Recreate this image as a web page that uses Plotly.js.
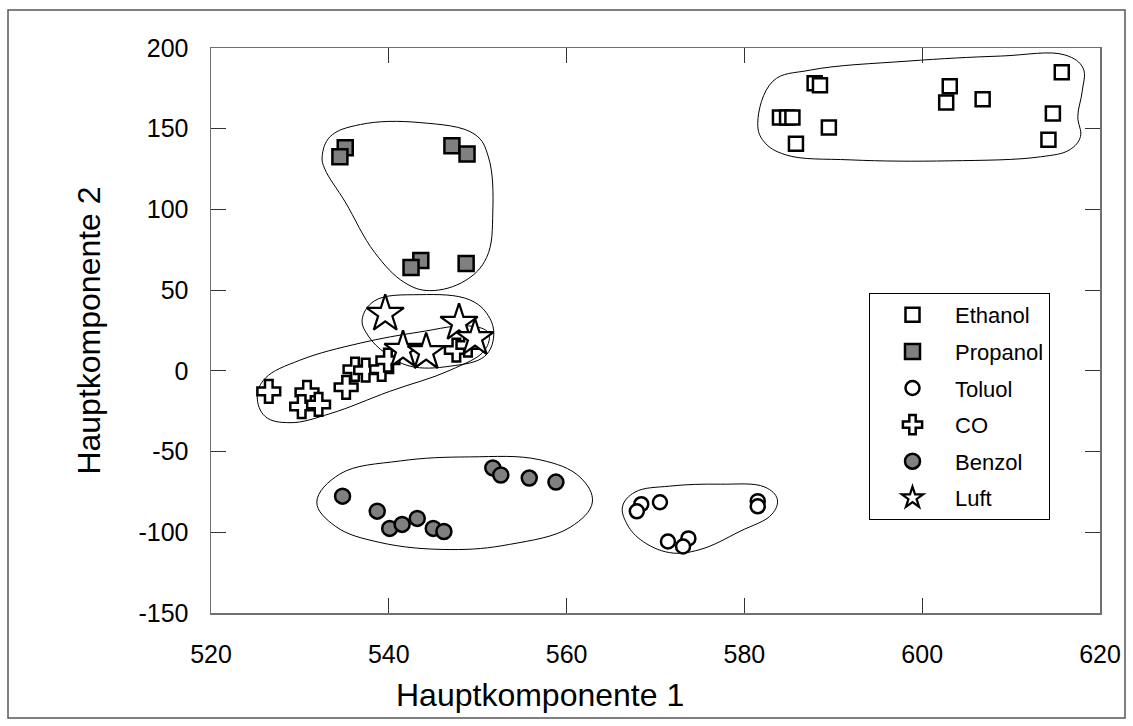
<!DOCTYPE html>
<html>
<head>
<meta charset="utf-8">
<script src="https://cdn.plot.ly/plotly-3.0.1.min.js"></script>
<style>html,body{margin:0;padding:0;background:#fff;}#chart{width:1133px;height:726px;}</style>
</head>
<body>
<div id="chart"></div>
<script>
// ---- data ----
const ethanolX = [587.9, 588.5, 584.0, 584.8, 585.4, 585.8, 589.5, 603.1, 602.7, 606.8, 615.7, 614.7, 614.2];
const ethanolY = [178.2, 176.9, 157.0, 157.0, 157.0, 140.7, 150.7, 176.3, 166.3, 168.2, 185.0, 159.4, 143.2];

const propanolX = [535.1, 534.5, 547.1, 548.8, 543.6, 542.5, 548.7];
const propanolY = [138.2, 132.6, 139.4, 134.4, 68.4, 64.0, 66.5];

const toluolX = [568.4, 567.9, 570.5, 581.5, 581.5, 571.4, 573.7, 573.1];
const toluolY = [-82.6, -87.0, -81.4, -80.7, -83.9, -105.7, -103.8, -108.8];

const coX = [526.5, 530.8, 530.2, 532.1, 535.2, 536.2, 537.4, 539.2, 539.9, 547.6, 548.9];
const coY = [-12.7, -13.3, -22.1, -20.8, -10.2, 1.0, 0.4, 1.0, 6.6, 12.9, 16.0];

const benzolX = [534.8, 538.7, 540.1, 541.5, 543.2, 545.0, 546.2, 551.7, 552.6, 555.8, 558.8];
const benzolY = [-77.6, -86.9, -97.6, -95.1, -91.4, -97.6, -99.5, -60.1, -64.5, -66.4, -68.9];

const luftX = [539.6, 547.9, 549.7, 541.6, 544.2];
const luftY = [35.3, 29.7, 20.3, 12.9, 11.6];

// cluster outlines (closed curves)
const hullEthanolX = [581.5, 583.2, 587.4, 598.4, 608.8, 616.1, 618.1, 618.0, 617.5, 617.8, 616.6, 613.3, 603.1, 591.9, 584.6, 582.2, 581.5];
const hullEthanolY = [153.2, 179.4, 186.3, 191.9, 195.0, 195.6, 187.5, 173.2, 157.6, 145.1, 137.0, 132.6, 130.1, 130.7, 133.9, 142.0, 153.2];

const hullPropanolX = [532.5, 533.4, 536.8, 543.5, 549.7, 551.2, 551.7, 551.0, 548.6, 544.6, 541.8, 538.4, 535.1, 532.8, 532.5];
const hullPropanolY = [132.6, 145.1, 152.6, 153.8, 146.4, 132.6, 98.3, 70.2, 55.9, 49.7, 54.6, 73.4, 104.6, 125.1, 132.6];

const hullLuftX = [537.0, 538.4, 543.5, 549.1, 551.2, 551.8, 550.8, 546.9, 542.4, 539.6, 537.7, 537.0];
const hullLuftY = [31.6, 43.4, 47.2, 44.0, 34.1, 21.6, 9.1, 2.9, 2.9, 11.0, 21.6, 31.6];

const hullCOX = [525.2, 526.1, 530.0, 536.8, 543.5, 549.1, 551.2, 550.8, 546.9, 540.1, 533.4, 528.9, 526.1, 525.2];
const hullCOY = [-15.8, -4.6, 6.6, 17.2, 24.1, 27.8, 23.5, 12.9, 0.4, -12.7, -26.5, -32.1, -28.3, -15.8];

const hullBenzolX = [531.9, 534.5, 541.3, 549.1, 557.0, 561.5, 562.9, 560.4, 553.6, 546.9, 539.0, 534.0, 531.9];
const hullBenzolY = [-81.3, -63.9, -55.8, -53.3, -55.1, -65.8, -81.3, -96.9, -107.5, -110.7, -106.3, -96.3, -81.3];

const hullToluolX = [566.3, 567.7, 571.6, 577.3, 582.3, 583.7, 583.1, 579.5, 575.0, 571.6, 568.3, 566.7, 566.3];
const hullToluolY = [-83.8, -75.1, -71.4, -70.2, -72.0, -79.5, -88.8, -99.4, -110.7, -112.6, -104.5, -93.9, -83.8];

const xTicks = [520, 540, 560, 580, 600, 620];
const yTicks = [-150, -100, -50, 0, 50, 100, 150, 200];

// ---- traces ----
const FONT = '"Liberation Sans", Arial, Helvetica, sans-serif';
function hull(x, y) {
  return {x: x, y: y, mode: 'lines', type: 'scatter', showlegend: false, hoverinfo: 'skip',
          line: {color: '#000', width: 1, shape: 'spline', smoothing: 1.1}};
}
const traces = [
  hull(hullEthanolX, hullEthanolY), hull(hullPropanolX, hullPropanolY), hull(hullLuftX, hullLuftY),
  hull(hullCOX, hullCOY), hull(hullBenzolX, hullBenzolY), hull(hullToluolX, hullToluolY),
  {name: 'Ethanol', legendgroup: 'g1', x: ethanolX, y: ethanolY, mode: 'markers', type: 'scatter',
   marker: {symbol: 'square', size: 14, color: '#fff', line: {color: '#000', width: 2.5}}},
  {name: 'Propanol', legendgroup: 'g2', x: propanolX, y: propanolY, mode: 'markers', type: 'scatter',
   marker: {symbol: 'square', size: 15, color: '#808080', line: {color: '#000', width: 2.5}}},
  {name: 'Toluol', legendgroup: 'g3', x: toluolX, y: toluolY, mode: 'markers', type: 'scatter',
   marker: {symbol: 'circle', size: 14, color: '#fff', line: {color: '#000', width: 2.5}}},
  {name: 'CO', legendgroup: 'g4', x: coX, y: coY, mode: 'markers', type: 'scatter',
   marker: {symbol: 'cross', size: 19, color: '#fff', line: {color: '#000', width: 2.5}}},
  {name: 'Benzol', legendgroup: 'g5', x: benzolX, y: benzolY, mode: 'markers', type: 'scatter',
   marker: {symbol: 'circle', size: 15, color: '#808080', line: {color: '#000', width: 2.5}}},
  {name: 'Luft', legendgroup: 'g6', x: luftX, y: luftY, mode: 'markers', type: 'scatter',
   marker: {symbol: 'star', size: 28, color: '#fff', line: {color: '#000', width: 2.2}}}
];

const L = 211, R = 1100, T = 48, B = 613, W = 1133, H = 726;
const pw = R - L, ph = B - T;
const layout = {
  width: W, height: H,
  margin: {l: L, r: W - R, t: T, b: H - B, pad: 0},
  paper_bgcolor: '#fff', plot_bgcolor: '#fff',
  font: {family: FONT, color: '#000'},
  showlegend: true,
  xaxis: {
    range: [520, 620], tickvals: xTicks, ticktext: xTicks.map(String),
    ticks: 'inside', ticklen: 15, tickwidth: 1, tickcolor: '#333',
    showline: true, linecolor: '#707070', linewidth: 1.5, mirror: 'ticks',
    showgrid: false, zeroline: false, ticklabelstandoff: 18,
    tickfont: {family: FONT, size: 25, color: '#000'}
  },
  yaxis: {
    range: [-150, 200], tickvals: yTicks, ticktext: yTicks.map(String),
    ticks: 'inside', ticklen: 15, tickwidth: 1, tickcolor: '#333',
    showline: true, linecolor: '#707070', linewidth: 1.5, mirror: 'ticks',
    showgrid: false, zeroline: false, ticklabelstandoff: 16,
    tickfont: {family: FONT, size: 25, color: '#000'},
    title: {text: 'Hauptkomponente 2', font: {family: FONT, size: 32, color: '#000'}, standoff: 28}
  },
  legend: {
    x: (869 - L) / pw, y: (B - 293) / ph, xanchor: 'left', yanchor: 'top',
    bgcolor: '#fff', bordercolor: '#000', borderwidth: 1,
    font: {family: FONT, size: 22, color: '#000'},
    tracegroupgap: 5, itemwidth: 75, traceorder: 'grouped'
  },
  annotations: [{
    text: 'Hauptkomponente 1', xref: 'paper', yref: 'paper',
    x: (540 - L) / pw, y: (B - 695) / ph, xanchor: 'center', yanchor: 'middle',
    showarrow: false, font: {family: FONT, size: 32, color: '#000'}
  }],
  shapes: [{
    type: 'rect', xref: 'paper', yref: 'paper',
    x0: (8 - L) / pw, x1: (1125 - L) / pw, y0: (B - 718) / ph, y1: (B - 10) / ph,
    line: {color: '#555', width: 1.5}, fillcolor: 'rgba(0,0,0,0)', layer: 'below'
  }]
};

Plotly.newPlot('chart', traces, layout, {staticPlot: true, displayModeBar: false});
</script>
</body>
</html>
